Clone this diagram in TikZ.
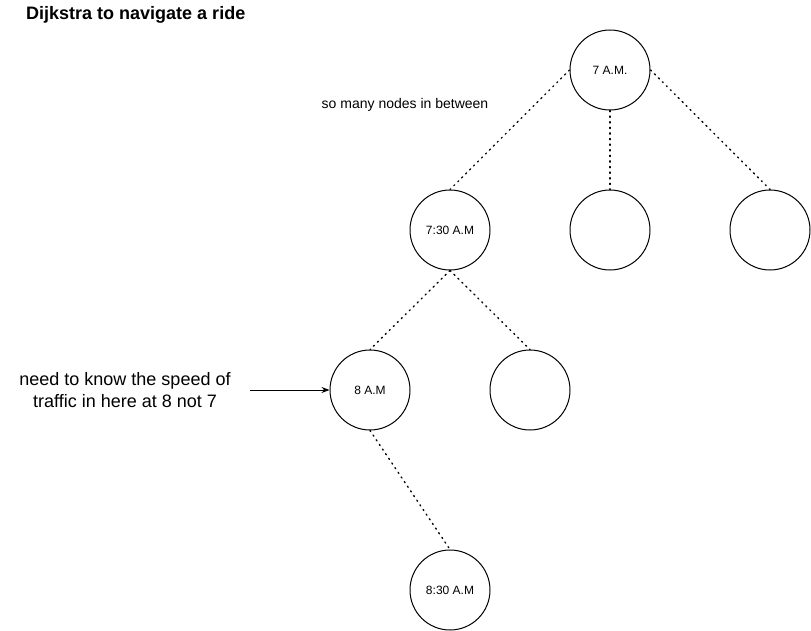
\documentclass[tikz,border=0pt]{standalone}
\usepackage{fontspec}
\setmainfont{Liberation Sans}
\usetikzlibrary{arrows.meta}
\tikzset{
  timenode/.style={draw, circle, minimum size=80pt, inner sep=0pt, line width=1pt, font=\fontsize{12}{14}\selectfont},
  dotline/.style={line width=1.4pt, dash pattern=on 1.2pt off 4.4pt, line cap=round},
}
\begin{document}
\begin{tikzpicture}[x=1pt,y=1pt,yscale=-1,xscale=1]
\useasboundingbox (0,0) rectangle (811,631);

%Shape: Circle
\node [timenode] (sevenam) at (610,70) {7 A.M.};
%Shape: Circle
\node [timenode] (sevenhalf) at (450,230) {7:30 A.M};
%Shape: Circle
\node [timenode] (midchild) at (610,230) {};
%Shape: Circle
\node [timenode] (rightchild) at (770,230) {};
%Shape: Circle
\node [timenode] (eightam) at (370,390) {8 A.M};
%Shape: Circle
\node [timenode] (sidechild) at (530,390) {};
%Shape: Circle
\node [timenode] (eighthalf) at (450,590) {8:30 A.M};

%Straight Lines
\draw [dotline] (sevenam.west) -- (sevenhalf.north);
\draw [dotline] (sevenam.south) -- (midchild.north);
\draw [dotline] (sevenam.east) -- (rightchild.north);
\draw [dotline] (sevenhalf.south) -- (eightam.north);
\draw [dotline] (sevenhalf.south) -- (sidechild.north);
\draw [dotline] (eightam.south) -- (eighthalf.north);

%Straight Lines
\coordinate (notestart) at (250,390);
\draw [line width=1pt, -{Stealth[length=8pt,width=6pt]}] (notestart) -- (eightam.west);

% Text Node
\node [anchor=west, inner sep=0pt, font=\bfseries\fontsize{18}{21}\selectfont] (title) at (26,15) {Dijkstra to navigate a ride};
% Text Node
\node [inner sep=0pt, font=\fontsize{14}{17}\selectfont] (between) at (405,105) {so many nodes in between};
% Text Node
\node [inner sep=0pt, align=center, font=\fontsize{18}{21.6}\selectfont] (note) at (125,390) {need to know the speed of\\traffic in here at 8 not 7};

\end{tikzpicture}
\end{document}
